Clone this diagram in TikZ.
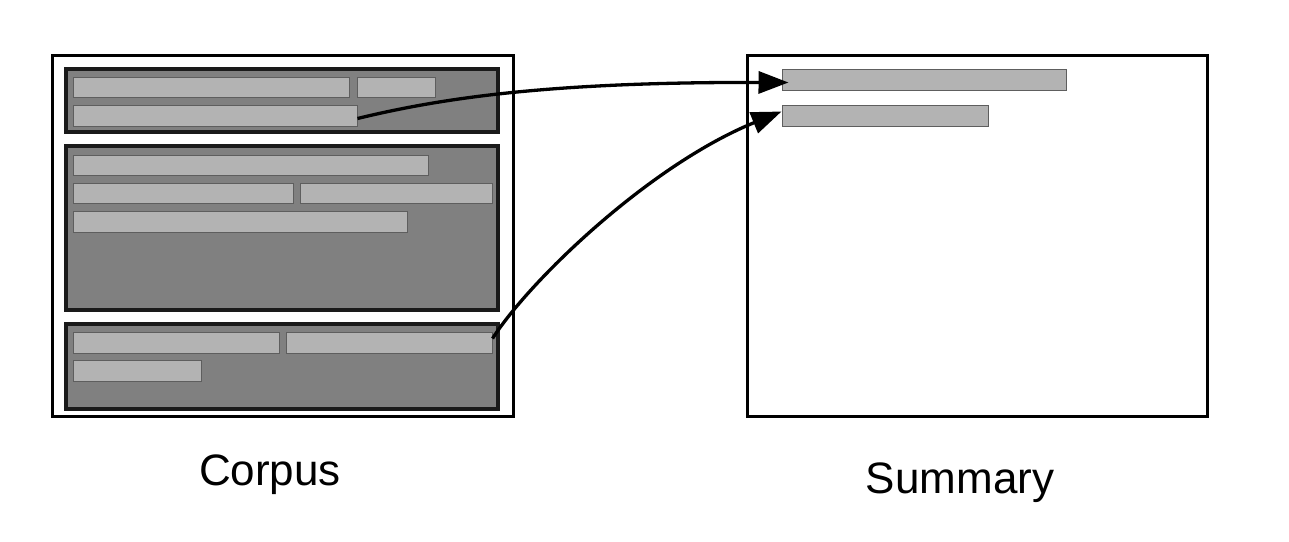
\documentclass[tikz,border=0pt]{standalone}
\usepackage{fontspec}
\setmainfont{Liberation Sans}
\usetikzlibrary{fit,arrows.meta}
\definecolor{secfill}{HTML}{808080}
\definecolor{secline}{HTML}{1A1A1A}
\definecolor{barfill}{HTML}{B3B3B3}
\definecolor{barline}{HTML}{5E5E5E}
\begin{document}
\begin{tikzpicture}[x=1pt,y=-1pt,
  docbox/.style={draw=black,line width=3pt,fill=white,inner sep=0pt},
  secbox/.style={draw=secline,line width=3.2pt,fill=secfill,inner sep=0pt},
  barbox/.style={draw=barline,line width=1pt,fill=barfill,inner sep=0pt},
  arrowline/.style={draw=black,line width=3.3pt,-{Triangle[length=30pt,width=22pt]}},
  caption/.style={font=\fontsize{44}{50}\selectfont,inner sep=0pt}]
\useasboundingbox (0,0) rectangle (1289,541);
% corpus
\node[docbox,fit={(52,55) (513,416)}] (corpus) {};
\node[secbox,fit={(66,69) (498,132)}] (sec1) {};
\node[secbox,fit={(66,146) (498,310)}] (sec2) {};
\node[secbox,fit={(66,324) (498,409)}] (sec3) {};
% section 1 bars
\node[barbox,fit={(73,77) (349,97)}] (b11) {};
\node[barbox,fit={(357,77) (435,97)}] (b12) {};
\node[barbox,fit={(73,105) (357,126)}] (b13) {};
% section 2 bars
\node[barbox,fit={(73,155) (428,175)}] (b21) {};
\node[barbox,fit={(73,183) (293,203)}] (b22) {};
\node[barbox,fit={(300,183) (492,203)}] (b23) {};
\node[barbox,fit={(73,211) (407,232)}] (b24) {};
% section 3 bars
\node[barbox,fit={(73,332) (279,353)}] (b31) {};
\node[barbox,fit={(286,332) (492,353)}] (b32) {};
\node[barbox,fit={(73,360) (201,381)}] (b33) {};
% summary
\node[docbox,fit={(747,55) (1207,416)}] (summary) {};
\node[barbox,fit={(782,69) (1066,90)}] (s1) {};
\node[barbox,fit={(782,105) (988,126)}] (s2) {};
% captions
\node[caption] (lc) at (270,475) {Corpus};
\node[caption] (rc) at (960,483) {Summary};
% arrows
\draw[arrowline] ([yshift=-3pt]b13.east) .. controls (450,96) and (560,82) .. ([xshift=7pt,yshift=-3pt]s1.west);
\draw[arrowline] ([yshift=4pt]b32.east) .. controls (530,280) and (650,165) .. ([yshift=4pt]s2.west);
\end{tikzpicture}
\end{document}
